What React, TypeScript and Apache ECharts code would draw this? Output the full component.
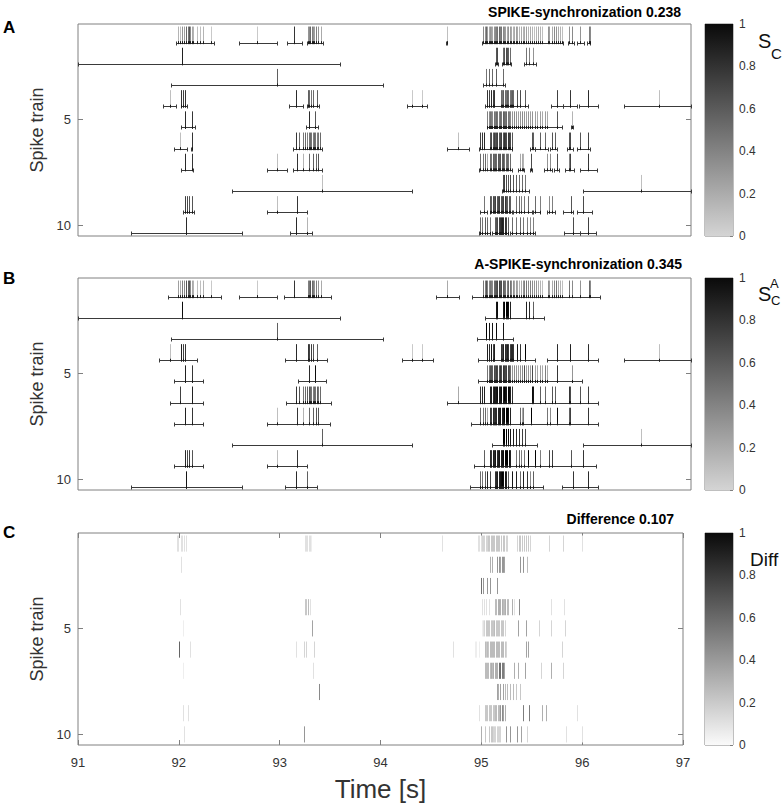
import React, { useEffect, useRef } from "react";
import * as echarts from "echarts";

const timeRange = [91, 97];
const rowRange = [0.5, 10.5];
const rowTicks = [5, 10];
const colorbarRange = [0, 1];
const panelLetters = ["A", "B", "C"];
const panelTitles = ["SPIKE-synchronization 0.238", "A-SPIKE-synchronization 0.345", "Difference 0.107"];
const xAxisTitle = "Time [s]";
const yAxisTitle = "Spike train";

// [spike time (s), SPIKE-synchronization value, A-SPIKE-synchronization value]
const train1 = [
  [91.980, .15, .25], [91.996, .10, .20], [92.019, .30, .40], [92.036, .25, .35], [92.055, .50, .60], [92.072, .45, .55], [92.088, .60, .60], [92.101, .35, .35], [92.114, .20, .20], [92.127, .15, .15], [92.160, .10, .10], [92.192, .10, .10], [92.225, .15, .15], [92.297, .05, .05],
  [92.754, .05, .05], [93.117, .75, .75],
  [93.247, .30, .40], [93.260, .35, .45], [93.273, .50, .60], [93.287, .40, .50], [93.300, .30, .40], [93.313, .25, .30], [93.326, .40, .40], [93.345, .30, .30], [93.375, .20, .20],
  [94.608, .10, .20],
  [94.965, .35, .45], [94.980, .30, .40], [94.992, .50, .60], [95.005, .25, .40], [95.018, .20, .35], [95.030, .30, .45], [95.042, .25, .40], [95.055, .20, .35], [95.068, .30, .50], [95.080, .35, .55],
  [95.092, .40, .60], [95.105, .45, .65], [95.118, .50, .70], [95.130, .40, .60], [95.142, .45, .65], [95.155, .35, .55], [95.168, .30, .50], [95.180, .25, .45], [95.195, .20, .40], [95.210, .30, .50],
  [95.225, .25, .45], [95.240, .20, .35], [95.255, .15, .30], [95.270, .20, .20], [95.285, .25, .25], [95.300, .20, .20], [95.318, .15, .15], [95.335, .20, .20], [95.352, .15, .30], [95.370, .20, .40],
  [95.388, .25, .45], [95.405, .15, .35], [95.425, .20, .40], [95.445, .15, .35], [95.465, .10, .30], [95.485, .15, .30], [95.505, .20, .20], [95.525, .15, .15], [95.545, .10, .10], [95.598, .30, .30],
  [95.615, .25, .25], [95.635, .20, .20], [95.655, .35, .35], [95.675, .30, .45], [95.700, .20, .20], [95.720, .15, .15], [95.742, .10, .10],
  [95.808, .30, .45], [95.834, .35, .35], [95.915, .30, .30], [95.997, .40, .50], [96.007, .35, .35],
];
const train2 = [
  [92.019, .85, .95],
  [95.087, .60, .90], [95.102, .65, .95], [95.160, .50, .90], [95.173, .60, 1], [95.186, .65, 1], [95.200, .60, 1], [95.213, .55, .95], [95.226, .50, .85],
  [95.384, .45, .85], [95.416, .40, .80], [95.457, .30, .55],
];
const train3 = [
  [92.944, .55, .55],
  [94.992, .45, 1], [95.020, .50, .90], [95.053, .50, .90], [95.087, .55, .95], [95.155, .50, .90],
];
const train4 = [
  [91.898, .10, .10], [92.013, .75, .85], [92.029, .70, .70], [92.046, .75, .75],
  [93.130, .80, .80], [93.247, .55, .75], [93.260, .50, .70], [93.277, .45, .70], [93.296, .50, .60], [93.336, .55, .55],
  [94.271, .05, .05], [94.363, .05, .05],
  [95.007, .75, .85], [95.024, .70, .80], [95.043, .80, .90], [95.060, .70, .70], [95.076, .75, .85],
  [95.138, .50, .75], [95.150, .45, .70], [95.162, .55, .85], [95.175, .50, .80], [95.188, .45, .75], [95.200, .55, .85], [95.212, .50, .75], [95.225, .45, .70], [95.238, .50, .80], [95.250, .55, .80], [95.262, .50, .75],
  [95.301, .60, .90], [95.327, .65, .75], [95.376, .55, 1],
  [95.687, .70, .80], [95.817, .75, .85], [95.996, .80, .80], [96.691, .10, .10],
];
const train5 = [
  [92.045, .80, .85], [92.111, .75, .75], [93.260, .80, .80], [93.319, .60, .95],
  [95.005, .40, .45], [95.018, .35, .45], [95.030, .45, .60], [95.043, .40, .60], [95.055, .35, .55], [95.068, .45, .65], [95.080, .40, .60], [95.092, .50, .70], [95.105, .45, .65], [95.118, .40, .60],
  [95.130, .50, .75], [95.143, .45, .65], [95.155, .55, .75], [95.168, .50, .70], [95.180, .45, .65], [95.193, .50, .70], [95.205, .45, .65], [95.218, .40, .60], [95.232, .35, .50], [95.248, .30, .30],
  [95.265, .35, .35], [95.285, .30, .30], [95.305, .25, .25], [95.325, .30, .30], [95.345, .35, .35], [95.365, .30, .65], [95.385, .25, .25], [95.405, .30, .30], [95.425, .25, .25], [95.445, .30, .65],
  [95.470, .25, .25], [95.495, .20, .20], [95.520, .25, .25], [95.545, .20, .20], [95.570, .25, .40], [95.595, .20, .20],
  [95.687, .60, .75], [95.834, .15, .30],
];
const train6 = [
  [92.003, .10, .70], [92.111, .75, .85],
  [93.133, .75, .75], [93.162, .50, .60], [93.198, .45, .45], [93.221, .50, .50], [93.244, .40, .55], [93.257, .45, .60], [93.270, .50, .50], [93.283, .45, .45], [93.296, .40, .40], [93.309, .50, .50],
  [93.322, .45, .45], [93.336, .40, .55], [93.352, .45, .45], [93.368, .50, .50],
  [94.716, .10, .20], [94.936, .70, .75], [94.952, .75, .80], [94.975, .80, .85],
  [95.034, .60, .85], [95.046, .65, .85], [95.058, .55, .80], [95.070, .70, .90], [95.082, .60, .85], [95.094, .65, .90], [95.106, .70, .95], [95.118, .60, .85], [95.130, .65, .90],
  [95.142, .70, .95], [95.155, .60, .85], [95.168, .75, 1], [95.180, .70, .95], [95.192, .65, .90], [95.205, .75, 1], [95.218, .70, .95], [95.232, .65, .85], [95.246, .60, .75],
  [95.442, .60, .95], [95.458, .55, .90], [95.523, .55, .55], [95.572, .50, .50], [95.638, .60, .60], [95.670, .55, .55], [95.801, .60, .75], [95.817, .65, .65], [95.915, .60, .60], [95.996, .70, .70],
];
const train7 = [
  [92.045, .80, .85], [92.111, .75, .75], [92.944, .10, .10],
  [93.140, .75, .75], [93.205, .15, .15], [93.260, .50, .50], [93.303, .55, .55], [93.326, .50, .60], [93.352, .60, .60],
  [94.936, .50, .50], [94.962, .45, .45], [94.985, .50, .50], [95.007, .20, .20],
  [95.034, .50, .75], [95.046, .45, .70], [95.058, .55, .80], [95.070, .50, .75], [95.083, .55, .80], [95.096, .50, .80], [95.108, .60, .85], [95.120, .55, .85],
  [95.133, .60, .90], [95.146, .55, .85], [95.160, .60, .90], [95.173, .45, 1], [95.186, .45, 1], [95.200, .50, 1], [95.213, .45, .95], [95.226, .50, .85],
  [95.327, .20, .50], [95.344, .20, .20], [95.360, .15, .45], [95.432, .65, 1], [95.589, .30, .45], [95.621, .35, .35], [95.687, .65, .95], [95.805, .40, .55], [95.820, .70, .70], [95.990, .75, .75],
];
const train8 = [
  [93.391, .10, .55],
  [95.157, .65, 1], [95.170, .70, 1], [95.188, .65, 1], [95.210, .60, .95], [95.232, .65, .90], [95.258, .60, .85], [95.285, .55, .80], [95.316, .50, .75], [95.348, .50, .70], [95.380, .45, .65],
  [96.512, .10, .10],
];
const train9 = [
  [92.045, .70, .80], [92.068, .65, .65], [92.088, .60, .70], [92.111, .60, .60], [92.944, .10, .10], [93.140, .75, .75],
  [94.975, .45, .55],
  [95.034, .60, .80], [95.046, .55, .75], [95.058, .65, .85], [95.072, .60, .80], [95.085, .70, .90], [95.098, .60, .80], [95.111, .65, .85], [95.124, .70, .90],
  [95.137, .60, .85], [95.150, .65, .90], [95.163, .70, .95], [95.176, .75, 1], [95.190, .60, 1], [95.203, .55, 1], [95.216, .60, .95], [95.230, .55, .85],
  [95.290, .45, .45], [95.318, .50, .50], [95.340, .40, .40], [95.366, .45, .45], [95.409, .50, 1], [95.470, .50, 1], [95.518, .40, .40], [95.606, .35, .65], [95.640, .40, .70],
  [95.825, .60, .60], [95.945, .65, .75],
];
const train10 = [
  [92.055, .80, .90], [93.133, .80, .80], [93.238, .15, .55],
  [94.936, .50, .50], [94.952, .45, .45], [94.985, .55, .55], [95.001, .50, .80], [95.034, .45, .65],
  [95.080, .55, .75], [95.092, .60, .80], [95.104, .65, .85], [95.116, .70, .85], [95.128, .75, .90], [95.140, .80, .95], [95.152, .85, 1], [95.164, .80, .95], [95.176, .75, .90], [95.190, .70, .85],
  [95.212, .55, .55], [95.245, .50, .90], [95.287, .45, .85], [95.326, .50, .50], [95.352, .45, .85], [95.392, .40, .75], [95.424, .35, .35], [95.457, .40, .55],
  [95.842, .65, .75], [95.996, .70, .80],
];
const trains = [train1, train2, train3, train4, train5, train6, train7, train8, train9, train10];

// coincidence windows [start (s), end (s)] per spike train
const windowsSync = [
  [[91.964, 92.333], [92.575, 92.944], [93.048, 93.195], [93.238, 93.401], [94.600, 94.616], [94.951, 95.744], [95.795, 95.850], [95.885, 95.950], [95.980, 96.012]],
  [[91.000, 93.564], [95.080, 95.110], [95.150, 95.240], [95.365, 95.480]],
  [[91.915, 93.982], [94.968, 95.181]],
  [[91.833, 91.964], [92.006, 92.068], [93.068, 93.198], [93.238, 93.362], [94.222, 94.418], [94.985, 95.408], [95.627, 95.744], [95.751, 95.881], [95.908, 96.094], [96.345, 97.000]],
  [[92.013, 92.150], [93.228, 93.352], [94.999, 95.734], [95.825, 95.845]],
  [[91.941, 92.062], [92.105, 92.118], [93.100, 93.385], [94.608, 94.830], [94.928, 95.245], [95.424, 95.470], [95.473, 95.604], [95.620, 95.686], [95.783, 95.849], [95.881, 96.012]],
  [[92.013, 92.127], [92.852, 93.042], [93.100, 93.385], [94.928, 95.245], [95.310, 95.370], [95.420, 95.445], [95.560, 95.640], [95.660, 95.710], [95.770, 95.850], [95.909, 96.079]],
  [[92.509, 94.271], [95.147, 95.418], [95.947, 97.000]],
  [[92.029, 92.134], [92.852, 93.238], [94.934, 95.000], [95.032, 95.245], [95.261, 95.441], [95.457, 95.522], [95.588, 95.669], [95.751, 95.849], [95.881, 96.028]],
  [[91.523, 92.601], [93.074, 93.293], [94.928, 95.032], [95.049, 95.212], [95.228, 95.473], [95.757, 95.914], [95.914, 96.071]],
];
const windowsAdaptive = [
  [[91.882, 92.398], [92.575, 92.944], [93.015, 93.476], [94.503, 94.729], [94.859, 96.110]],
  [[91.000, 93.564], [94.983, 95.561]],
  [[91.915, 93.982], [94.902, 95.261]],
  [[91.794, 92.160], [93.025, 93.440], [94.167, 94.471], [94.911, 95.473], [95.588, 96.094], [96.345, 97.000]],
  [[91.941, 92.219], [93.156, 93.427], [94.911, 95.937]],
  [[91.898, 92.219], [93.035, 93.476], [94.608, 96.094]],
  [[91.941, 92.219], [92.846, 93.466], [94.843, 96.094]],
  [[92.509, 94.271], [95.049, 95.490], [95.947, 97.000]],
  [[91.941, 92.219], [92.846, 93.244], [94.879, 96.068]],
  [[91.523, 92.601], [93.025, 93.342], [94.836, 95.555], [95.734, 96.094]],
];

const FONT = "'Liberation Sans', Arial, Helvetica, sans-serif";
const FRAME = "#808080";
const TEXT = "#333333";
const LINE = "#3a3a3a";

const clamp = (v: number) => Math.max(0, Math.min(1, v));
const graySync = (v: number) => {
  const g = Math.round(212 * (1 - clamp(v)));
  return `rgb(${g},${g},${g})`;
};
const grayDiff = (v: number) => {
  const g = Math.round(250 * (1 - clamp(v)));
  return `rgb(${g},${g},${g})`;
};

const panelTops = [24, 278, 533];
const panelWidths = [613, 613, 605];
const panelHeight = 212;

function spikeRender(cmap: (v: number) => string, base: boolean) {
  return (params: any, api: any) => {
    const t = api.value(0);
    const row = api.value(1);
    const v = api.value(2);
    const p0 = api.coord([t, row - 0.38]);
    const p1 = api.coord([t, row + 0.38]);
    const x = Math.round(p0[0]) + 0.5;
    const children: any[] = [
      { type: "line", shape: { x1: x, y1: p0[1], x2: x, y2: p1[1] }, style: { stroke: cmap(v), lineWidth: 1 } },
    ];
    if (base) {
      children.push({ type: "line", shape: { x1: x, y1: p1[1] - 1.5, x2: x, y2: p1[1] + 1.5 }, style: { stroke: "#1a1a1a", lineWidth: 1 } });
    }
    return { type: "group", children };
  };
}

function windowRender(params: any, api: any) {
  const t0 = api.value(0);
  const t1 = api.value(1);
  const row = api.value(2);
  const a = api.coord([t0, row + 0.38]);
  const b = api.coord([t1, row + 0.38]);
  const y = Math.round(a[1]) + 0.5;
  const xa = Math.round(a[0]) + 0.5;
  const xb = Math.round(b[0]) + 0.5;
  return {
    type: "group",
    children: [
      { type: "line", shape: { x1: xa, y1: y, x2: xb, y2: y }, style: { stroke: LINE, lineWidth: 1 } },
      { type: "line", shape: { x1: xa, y1: y - 2, x2: xa, y2: y + 2 }, style: { stroke: LINE, lineWidth: 1 } },
      { type: "line", shape: { x1: xb, y1: y - 2, x2: xb, y2: y + 2 }, style: { stroke: LINE, lineWidth: 1 } },
    ],
  };
}

function buildOption() {
  const spikesSync: number[][] = [];
  const spikesAdaptive: number[][] = [];
  const spikesDiff: number[][] = [];
  trains.forEach((tr, i) => {
    const row = i + 1;
    tr.forEach(([t, a, b]) => {
      spikesSync.push([t, row, a]);
      spikesAdaptive.push([t, row, b]);
      const d = Math.abs(b - a);
      if (d > 0.005) spikesDiff.push([t, row, d]);
    });
  });
  const byValue = (p: number[], q: number[]) => p[2] - q[2];
  spikesSync.sort(byValue);
  spikesAdaptive.sort(byValue);
  spikesDiff.sort(byValue);
  const winSync: number[][] = [];
  windowsSync.forEach((ws, i) => ws.forEach(([t0, t1]) => winSync.push([t0, t1, i + 1])));
  const winAdaptive: number[][] = [];
  windowsAdaptive.forEach((ws, i) => ws.forEach(([t0, t1]) => winAdaptive.push([t0, t1, i + 1])));

  const grids: any[] = [];
  for (let p = 0; p < 3; p++) {
    grids.push({ left: 78, top: panelTops[p], width: panelWidths[p], height: panelHeight, show: true, borderColor: FRAME, borderWidth: 1, containLabel: false, outerBoundsMode: "none" });
  }
  for (let p = 0; p < 3; p++) {
    grids.push({ left: 705, top: panelTops[p], width: 28, height: panelHeight, show: true, borderColor: FRAME, borderWidth: 1, containLabel: false, outerBoundsMode: "none" });
  }

  const tickStyle = { color: FRAME, width: 1 };
  const xAxes: any[] = [
    { gridIndex: 0, type: "value", min: timeRange[0], max: timeRange[1], show: false },
    { gridIndex: 1, type: "value", min: timeRange[0], max: timeRange[1], show: false },
    {
      gridIndex: 2, type: "value", min: timeRange[0], max: timeRange[1], interval: 1, position: "bottom",
      axisLine: { show: false }, axisTick: { show: true, inside: true, length: 5, lineStyle: tickStyle },
      axisLabel: { color: TEXT, fontSize: 13, margin: 11, fontFamily: FONT }, splitLine: { show: false },
      name: xAxisTitle, nameLocation: "middle", nameGap: 31, nameTextStyle: { fontSize: 26, color: TEXT, fontFamily: FONT },
    },
    {
      gridIndex: 2, type: "value", min: timeRange[0], max: timeRange[1], interval: 1, position: "top",
      axisLine: { show: false }, axisTick: { show: true, inside: true, length: 5, lineStyle: tickStyle },
      axisLabel: { show: false }, splitLine: { show: false },
    },
  ];
  for (let p = 0; p < 3; p++) {
    xAxes.push({ gridIndex: 3 + p, type: "category", data: ["colorbar"], show: false, boundaryGap: true });
  }

  const yAxes: any[] = [];
  for (let p = 0; p < 3; p++) {
    yAxes.push({
      gridIndex: p, type: "value", min: rowRange[0], max: rowRange[1], inverse: true, position: "left",
      axisLine: { show: false },
      axisTick: { show: true, inside: true, length: 5, customValues: rowTicks, lineStyle: tickStyle },
      axisLabel: { show: true, customValues: rowTicks, color: TEXT, fontSize: 13, margin: 7, fontFamily: FONT },
      splitLine: { show: false },
      name: yAxisTitle, nameLocation: "middle", nameGap: 29, nameTextStyle: { fontSize: 18, color: TEXT, fontFamily: FONT },
    });
    yAxes.push({
      gridIndex: p, type: "value", min: rowRange[0], max: rowRange[1], inverse: true, position: "right",
      axisLine: { show: false },
      axisTick: { show: true, inside: true, length: 5, customValues: rowTicks, lineStyle: tickStyle },
      axisLabel: { show: false }, splitLine: { show: false },
    });
  }
  for (let p = 0; p < 3; p++) {
    yAxes.push({
      gridIndex: 3 + p, type: "value", min: colorbarRange[0], max: colorbarRange[1], interval: 0.2, position: "right",
      axisLine: { show: false },
      axisTick: { show: true, inside: true, length: 3, lineStyle: tickStyle },
      axisLabel: { color: TEXT, fontSize: 12, margin: 6, fontFamily: FONT },
      splitLine: { show: false },
    });
  }

  const series: any[] = [
    { type: "custom", xAxisIndex: 0, yAxisIndex: 0, data: winSync, encode: { x: [0, 1], y: 2 }, renderItem: windowRender, silent: true },
    { type: "custom", xAxisIndex: 0, yAxisIndex: 0, data: spikesSync, encode: { x: 0, y: 1 }, renderItem: spikeRender(graySync, true), silent: true },
    { type: "custom", xAxisIndex: 1, yAxisIndex: 2, data: winAdaptive, encode: { x: [0, 1], y: 2 }, renderItem: windowRender, silent: true },
    { type: "custom", xAxisIndex: 1, yAxisIndex: 2, data: spikesAdaptive, encode: { x: 0, y: 1 }, renderItem: spikeRender(graySync, true), silent: true },
    { type: "custom", xAxisIndex: 2, yAxisIndex: 4, data: spikesDiff, encode: { x: 0, y: 1 }, renderItem: spikeRender(grayDiff, false), silent: true },
  ];
  const bottomColors = ["#d4d4d4", "#d4d4d4", "#fafafa"];
  for (let p = 0; p < 3; p++) {
    series.push({
      type: "bar", xAxisIndex: 4 + p, yAxisIndex: 6 + p, data: [colorbarRange[1]], barWidth: "100%", silent: true,
      itemStyle: {
        color: new echarts.graphic.LinearGradient(0, 0, 0, 1, [
          { offset: 0, color: "#0a0a0a" },
          { offset: 1, color: bottomColors[p] },
        ]),
      },
    });
  }

  const txt = (text: string, x: number, y: number, font: string, align = "left", fill = "#000") => ({
    type: "text", x, y, silent: true,
    style: { text, font, fill, textAlign: align, textVerticalAlign: "middle" },
  });
  const letterY = [27.5, 278.5, 532];
  const titleX = [681, 682, 674];
  const titleY = [12, 264, 518.5];
  const graphic: any[] = [];
  for (let p = 0; p < 3; p++) {
    graphic.push(txt(panelLetters[p], 3, letterY[p], `bold 17px ${FONT}`));
    graphic.push(txt(panelTitles[p], titleX[p], titleY[p], `bold 14px ${FONT}`, "right"));
  }
  graphic.push(txt("S", 758, 41, `20px ${FONT}`, "left", "#111"));
  graphic.push(txt("C", 771, 53, `15px ${FONT}`, "left", "#111"));
  graphic.push(txt("S", 758, 294, `20px ${FONT}`, "left", "#111"));
  graphic.push(txt("A", 770, 283.5, `13px ${FONT}`, "left", "#111"));
  graphic.push(txt("C", 771, 300, `13px ${FONT}`, "left", "#111"));
  graphic.push(txt("Diff", 750, 559, `19px ${FONT}`, "left", "#111"));

  return {
    animation: false,
    backgroundColor: "#ffffff",
    textStyle: { fontFamily: FONT },
    grid: grids,
    xAxis: xAxes,
    yAxis: yAxes,
    series,
    graphic,
  };
}

export default function App() {
  const ref = useRef<HTMLDivElement>(null);
  useEffect(() => {
    const chart = echarts.init(ref.current as HTMLDivElement, null, { renderer: "svg" });
    chart.setOption(buildOption() as any);
    return () => chart.dispose();
  }, []);
  return (
    <div
      ref={ref}
      style={{ position: "fixed", left: 0, top: 0, width: 784, height: 805, background: "#fff" }}
    />
  );
}
